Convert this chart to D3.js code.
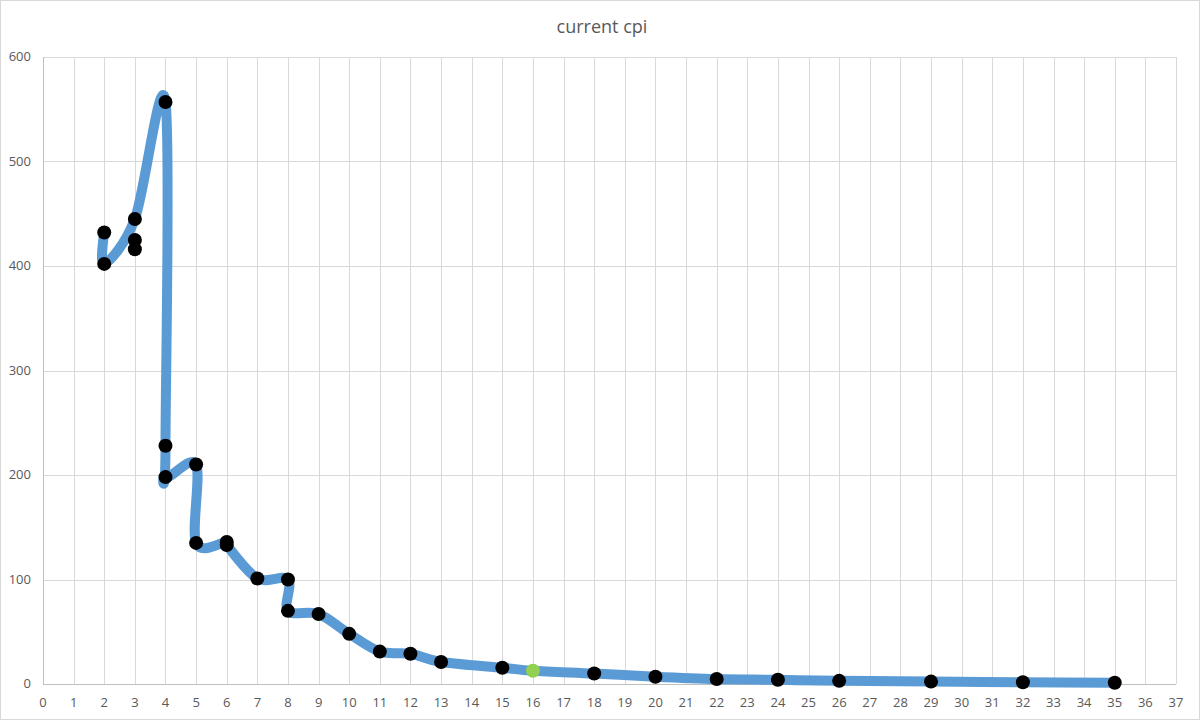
<!DOCTYPE html>
<html>
<head>
<meta charset="utf-8">
<script src="https://cdn.jsdelivr.net/npm/d3@7"></script>
<style>
    body { margin: 0; background: #fff; }
    text { font-family: "Open Sans", "Noto Sans", sans-serif; fill: #595959; }
</style>
</head>
<body>
<svg width="1200" height="720"></svg>
<script>
//--------------------------DATA------------------------------------------------
var title = "current cpi";
// smoothed series, in drawing order (x = threads, y = cpi)
var xValues = [2, 2, 3, 4, 4, 4, 5, 5, 6, 6, 7, 8, 8, 9, 10, 11, 12, 13, 15, 16, 18, 20, 22, 24, 26, 29, 32, 35];
var yValues = [432, 402, 445, 557, 228, 198, 210, 135, 136, 133, 101, 100, 70, 67, 48, 31, 29, 21, 15.6, 12.7, 10, 7, 4.8, 4, 3, 2.3, 1.7, 1.2];
// marker-only points
var extraX = [3, 3];
var extraY = [425, 416];
var highlightX = 16;
var xTicks = d3.range(0, 38, 1);
var yTicks = [0, 100, 200, 300, 400, 500, 600];

//--------------------------CHART-----------------------------------------------
var svg = d3.select("svg");
var margin = { top: 57, right: 24, bottom: 36, left: 43 };
var width = 1200 - margin.left - margin.right;
var height = 720 - margin.top - margin.bottom;

// outer chart border
svg.append("rect")
    .attr("x", 0.5).attr("y", 0.5)
    .attr("width", 1199).attr("height", 719)
    .style("fill", "#fff")
    .style("stroke", "#d9d9d9");

svg.append("text")
    .attr("x", 602)
    .attr("y", 33)
    .style("text-anchor", "middle")
    .style("font-size", "18px")
    .text(title);

var g = svg.append("g").attr("transform", "translate(" + margin.left + "," + margin.top + ")");

var x = d3.scaleLinear().domain([0, 37]).range([0, width]);
var y = d3.scaleLinear().domain([0, 600]).range([height, 0]);

// gridlines
g.selectAll(".vgrid")
    .data(xTicks)
    .enter().append("line")
    .attr("x1", function(d) { return Math.round(x(d)) + 0.5; })
    .attr("x2", function(d) { return Math.round(x(d)) + 0.5; })
    .attr("y1", 0)
    .attr("y2", height)
    .style("stroke", "#d9d9d9")
    .style("stroke-width", 1);
g.selectAll(".hgrid")
    .data(yTicks)
    .enter().append("line")
    .attr("x1", 0)
    .attr("x2", width)
    .attr("y1", function(d) { return Math.round(y(d)) + 0.5; })
    .attr("y2", function(d) { return Math.round(y(d)) + 0.5; })
    .style("stroke", "#d9d9d9")
    .style("stroke-width", 1);

// axis lines
g.append("line")
    .attr("x1", 0.5).attr("x2", 0.5)
    .attr("y1", 0).attr("y2", height)
    .style("stroke", "#bfbfbf");
g.append("line")
    .attr("x1", 0).attr("x2", width)
    .attr("y1", Math.round(y(0)) + 0.5).attr("y2", Math.round(y(0)) + 0.5)
    .style("stroke", "#bfbfbf");

// tick labels
g.selectAll(".xlabel")
    .data(xTicks)
    .enter().append("text")
    .attr("x", function(d) { return x(d); })
    .attr("y", height + 23)
    .style("text-anchor", "middle")
    .style("font-size", "13px")
    .text(function(d) { return d; });
g.selectAll(".ylabel")
    .data(yTicks)
    .enter().append("text")
    .attr("x", -12)
    .attr("y", function(d) { return y(d) + 4; })
    .style("text-anchor", "end")
    .style("font-size", "13px")
    .text(function(d) { return d; });

// smoothed line
var points = xValues.map(function(v, i) { return { x: v, y: yValues[i] }; });
var extras = extraX.map(function(v, i) { return { x: v, y: extraY[i] }; });
var line = d3.line()
    .x(function(d) { return x(d.x); })
    .y(function(d) { return y(d.y); })
    .curve(d3.curveCatmullRom.alpha(0));

g.append("path")
    .datum(points)
    .attr("d", line)
    .style("fill", "none")
    .style("stroke", "#5b9bd5")
    .style("stroke-width", 10)
    .style("stroke-linecap", "round")
    .style("stroke-linejoin", "round");

// markers
g.selectAll(".dot")
    .data(points.concat(extras))
    .enter().append("circle")
    .attr("r", 7)
    .attr("cx", function(d) { return x(d.x); })
    .attr("cy", function(d) { return y(d.y); })
    .style("fill", function(d) { return d.x === highlightX ? "#92d050" : "#000"; });
</script>
</body>
</html>
